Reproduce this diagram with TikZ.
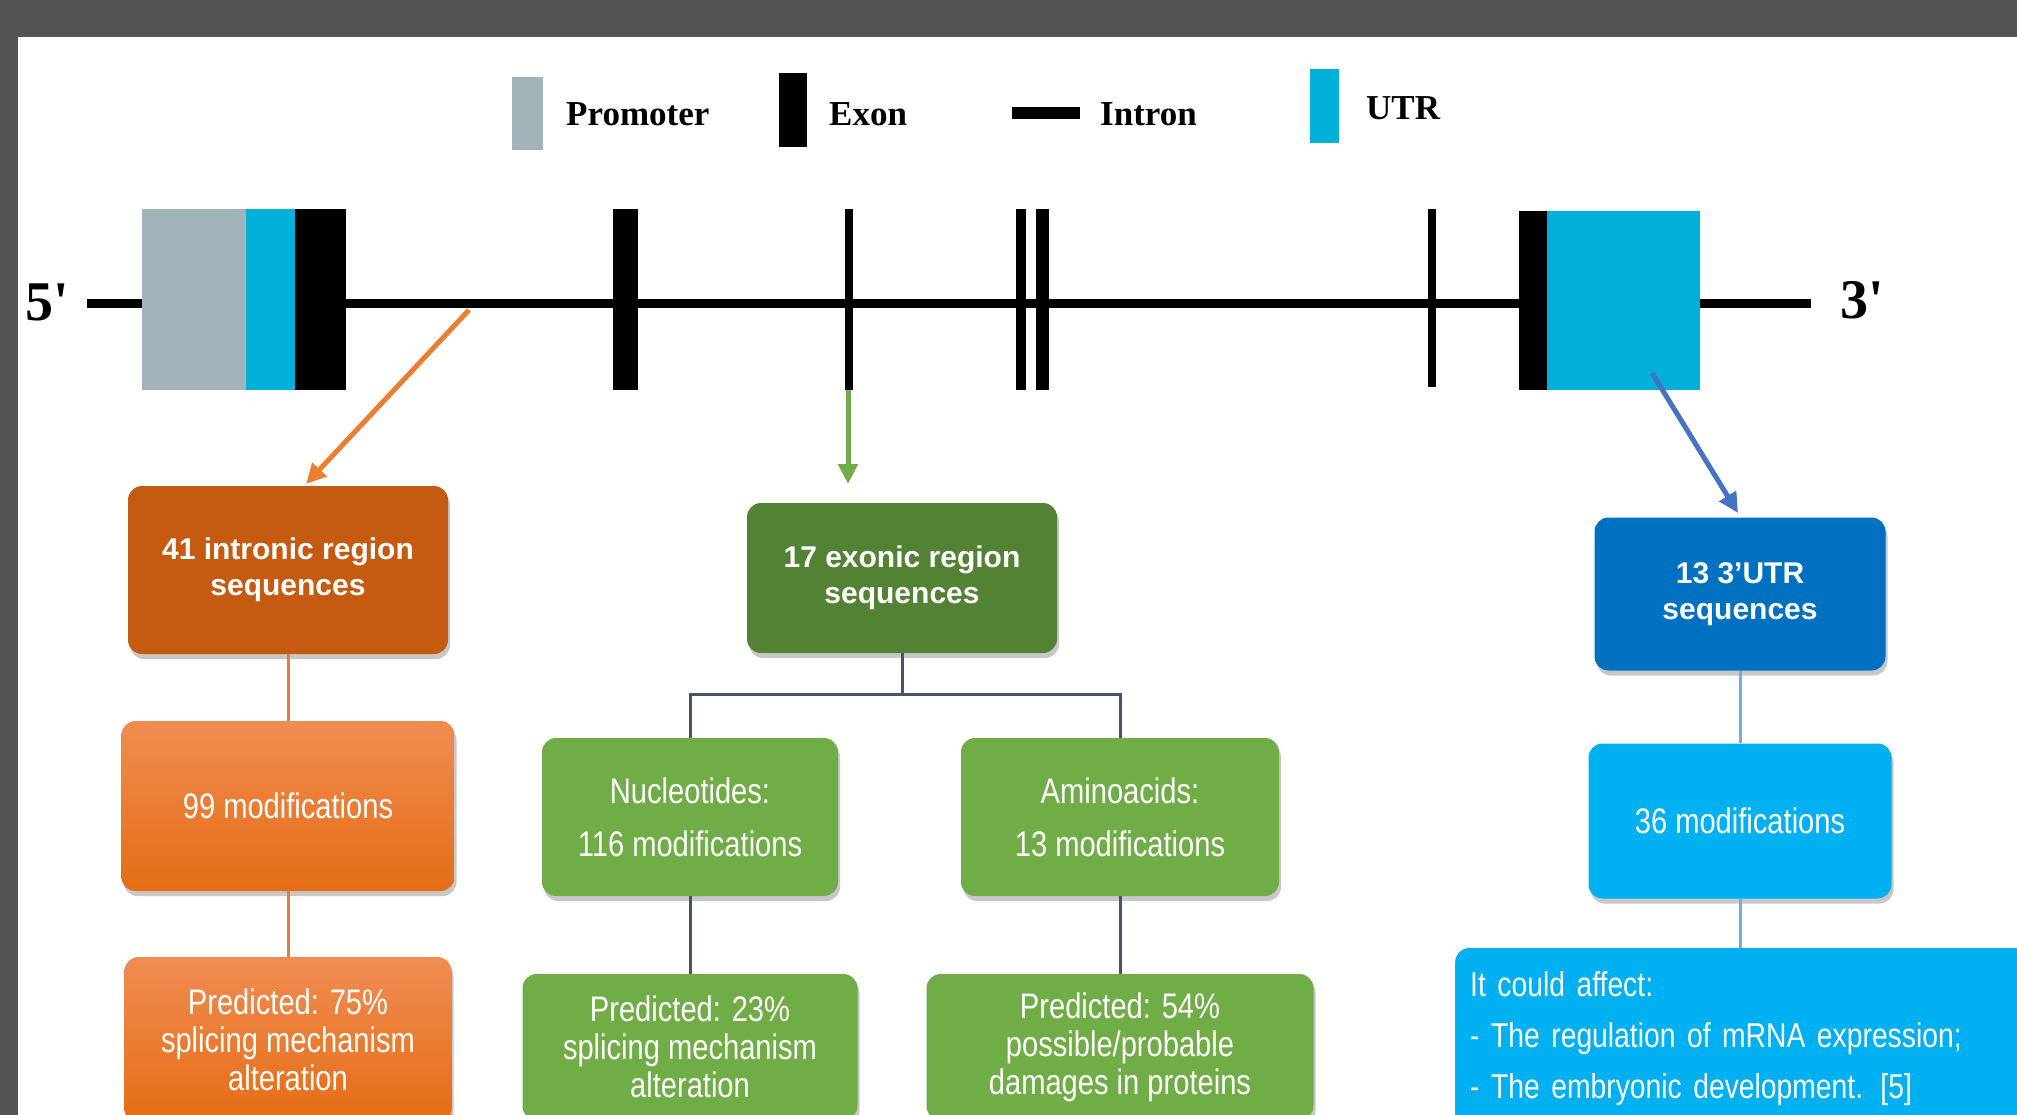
\documentclass[tikz,border=0pt]{standalone}
\usepackage{fontspec}
\setmainfont{Liberation Serif}
\newfontfamily\arialfont{Liberation Sans}
\newfontfamily\narrowfont[FakeStretch=0.82]{Liberation Sans}
\usetikzlibrary{arrows.meta,shadows}
\definecolor{bggray}{HTML}{535353}
\definecolor{promgray}{HTML}{A2B4BA}
\definecolor{utrcyan}{HTML}{00B0D8}
\definecolor{ordark}{HTML}{C55A11}
\definecolor{ortop}{HTML}{F08C52}
\definecolor{orbot}{HTML}{E56D14}
\definecolor{grdark}{HTML}{548235}
\definecolor{grlight}{HTML}{70AD47}
\definecolor{bldark}{HTML}{0070C0}
\definecolor{bllight}{HTML}{00B0F0}
\definecolor{orarrow}{HTML}{ED7D31}
\definecolor{blarrow}{HTML}{4472C4}
\definecolor{treeline}{HTML}{44546A}
\definecolor{orline}{HTML}{DE7F45}
\definecolor{blline}{HTML}{7FA7DC}
\begin{document}
\begin{tikzpicture}[x=1pt,y=-1pt,>={Triangle[length=20pt,width=19pt]},
  box/.style={rounded corners=14pt,text=white,align=center,inner sep=0pt,
    drop shadow={shadow xshift=2pt,shadow yshift=-5pt,opacity=.3,fill=black!70}},
  head/.style={box,font=\arialfont\bfseries\fontsize{30}{36}\selectfont},
  body/.style={box,font=\narrowfont\fontsize{35.5}{38}\selectfont},
  orbox/.style={body,top color=ortop,bottom color=orbot},
  legend/.style={inner sep=0pt,anchor=base west,font=\bfseries\fontsize{35}{40}\selectfont},
  prime/.style={inner sep=0pt,anchor=base west,font=\bfseries\fontsize{56}{60}\selectfont},
  link/.style={line width=3pt}]
  \path[use as bounding box,clip] (0,0) rectangle (2017,1115);
  \fill[bggray] (0,0) rectangle (2017,1115);
  \fill[white] (18,37) rectangle (2017,1115);
  \fill[promgray] (512,77) rectangle (543,150);
  \node[legend] (lprom) at (566,126) {Promoter};
  \fill (779,73) rectangle (807,147);
  \node[legend] (lexon) at (829,126) {Exon};
  \draw[line width=12pt] (1012,113) -- (1080,113);
  \node[legend] (lintr) at (1100,126) {Intron};
  \fill[utrcyan] (1310,69) rectangle (1339,143);
  \node[legend] (lutr) at (1366,120) {UTR};
  \node[prime] (five) at (25,320) {5\textquotesingle};
  \node[prime] (three) at (1840,318) {3\textquotesingle};
  \draw[line width=9pt] (87,303) -- (1811,303);
  \fill[promgray] (142,209) rectangle (246,390);
  \fill[utrcyan] (246,209) rectangle (295,390);
  \fill (295,209) rectangle (346,390);
  \foreach \xa/\xb in {613/638,845/853,1016/1026,1036/1049}
    \fill (\xa,209) rectangle (\xb,390);
  \fill (1428,209) rectangle (1436,387);
  \fill (1519,211) rectangle (1547,390);
  \fill[utrcyan] (1547,211) rectangle (1700,390);
  \coordinate (sInt) at (469,310);
  \coordinate (tInt) at (306,484);
  \coordinate (sExo) at (848,390);
  \coordinate (tExo) at (848,484);
  \coordinate (sUtr) at (1652,373);
  \coordinate (tUtr) at (1738,513);
  \draw[->,orarrow,line width=5pt] (sInt) -- (tInt);
  \draw[->,grlight,line width=5pt] (sExo) -- (tExo);
  \draw[->,blarrow,line width=5pt] (sUtr) -- (tUtr);
  \node[head,fill=ordark,minimum width=320pt,minimum height=168pt] (intr) at (288,570) {41 intronic region\\sequences};
  \node[orbox,minimum width=333pt,minimum height=170pt] (mod1) at (288,806) {99 modifications};
  \node[orbox,minimum width=327pt,minimum height=166pt] (pre1) at (288,1040) {Predicted: 75\%\\splicing mechanism\\alteration};
  \node[head,fill=grdark,minimum width=310pt,minimum height=150pt] (exo) at (902,578) {17 exonic region\\sequences};
  \node[body,fill=grlight,minimum width=296pt,minimum height=158pt,font=\narrowfont\fontsize{35.5}{53}\selectfont] (nuc) at (690,817) {Nucleotides:\\116 modifications};
  \node[body,fill=grlight,minimum width=318pt,minimum height=158pt,font=\narrowfont\fontsize{35.5}{53}\selectfont] (ami) at (1120,817) {Aminoacids:\\13 modifications};
  \node[body,fill=grlight,minimum width=335pt,minimum height=146pt] (pre2) at (690,1047) {Predicted: 23\%\\splicing mechanism\\alteration};
  \node[body,fill=grlight,minimum width=387pt,minimum height=146pt] (pre3) at (1120,1047) {Predicted: 54\%\\possible/probable\\damages in proteins};
  \node[head,fill=bldark,minimum width=291pt,minimum height=153pt] (utr) at (1740,594) {13 3’UTR\\sequences};
  \node[body,fill=bllight,minimum width=303pt,minimum height=155pt] (mod2) at (1740,821) {36 modifications};
  \node[body,fill=bllight,anchor=west,align=left,text width=600pt,inner xsep=15pt,minimum height=182pt,font=\narrowfont\fontsize{34.5}{51}\selectfont] (aff) at (1455,1039) {It could affect:\\- The regulation of mRNA expression;\\- The embryonic development. [5]};
  \draw[link,orline] (intr) -- (mod1);
  \draw[link,orline] (mod1) -- (pre1);
  \draw[link,treeline] (exo.south) -- ++(0,41) -| (nuc.north);
  \draw[link,treeline] (exo.south) -- ++(0,41) -| (ami.north);
  \draw[link,treeline] (nuc) -- (pre2);
  \draw[link,treeline] (ami) -- (pre3);
  \draw[link,blline] (utr) -- (mod2);
  \draw[link,blline] (mod2) -- (aff.north -| mod2);
\end{tikzpicture}
\end{document}
